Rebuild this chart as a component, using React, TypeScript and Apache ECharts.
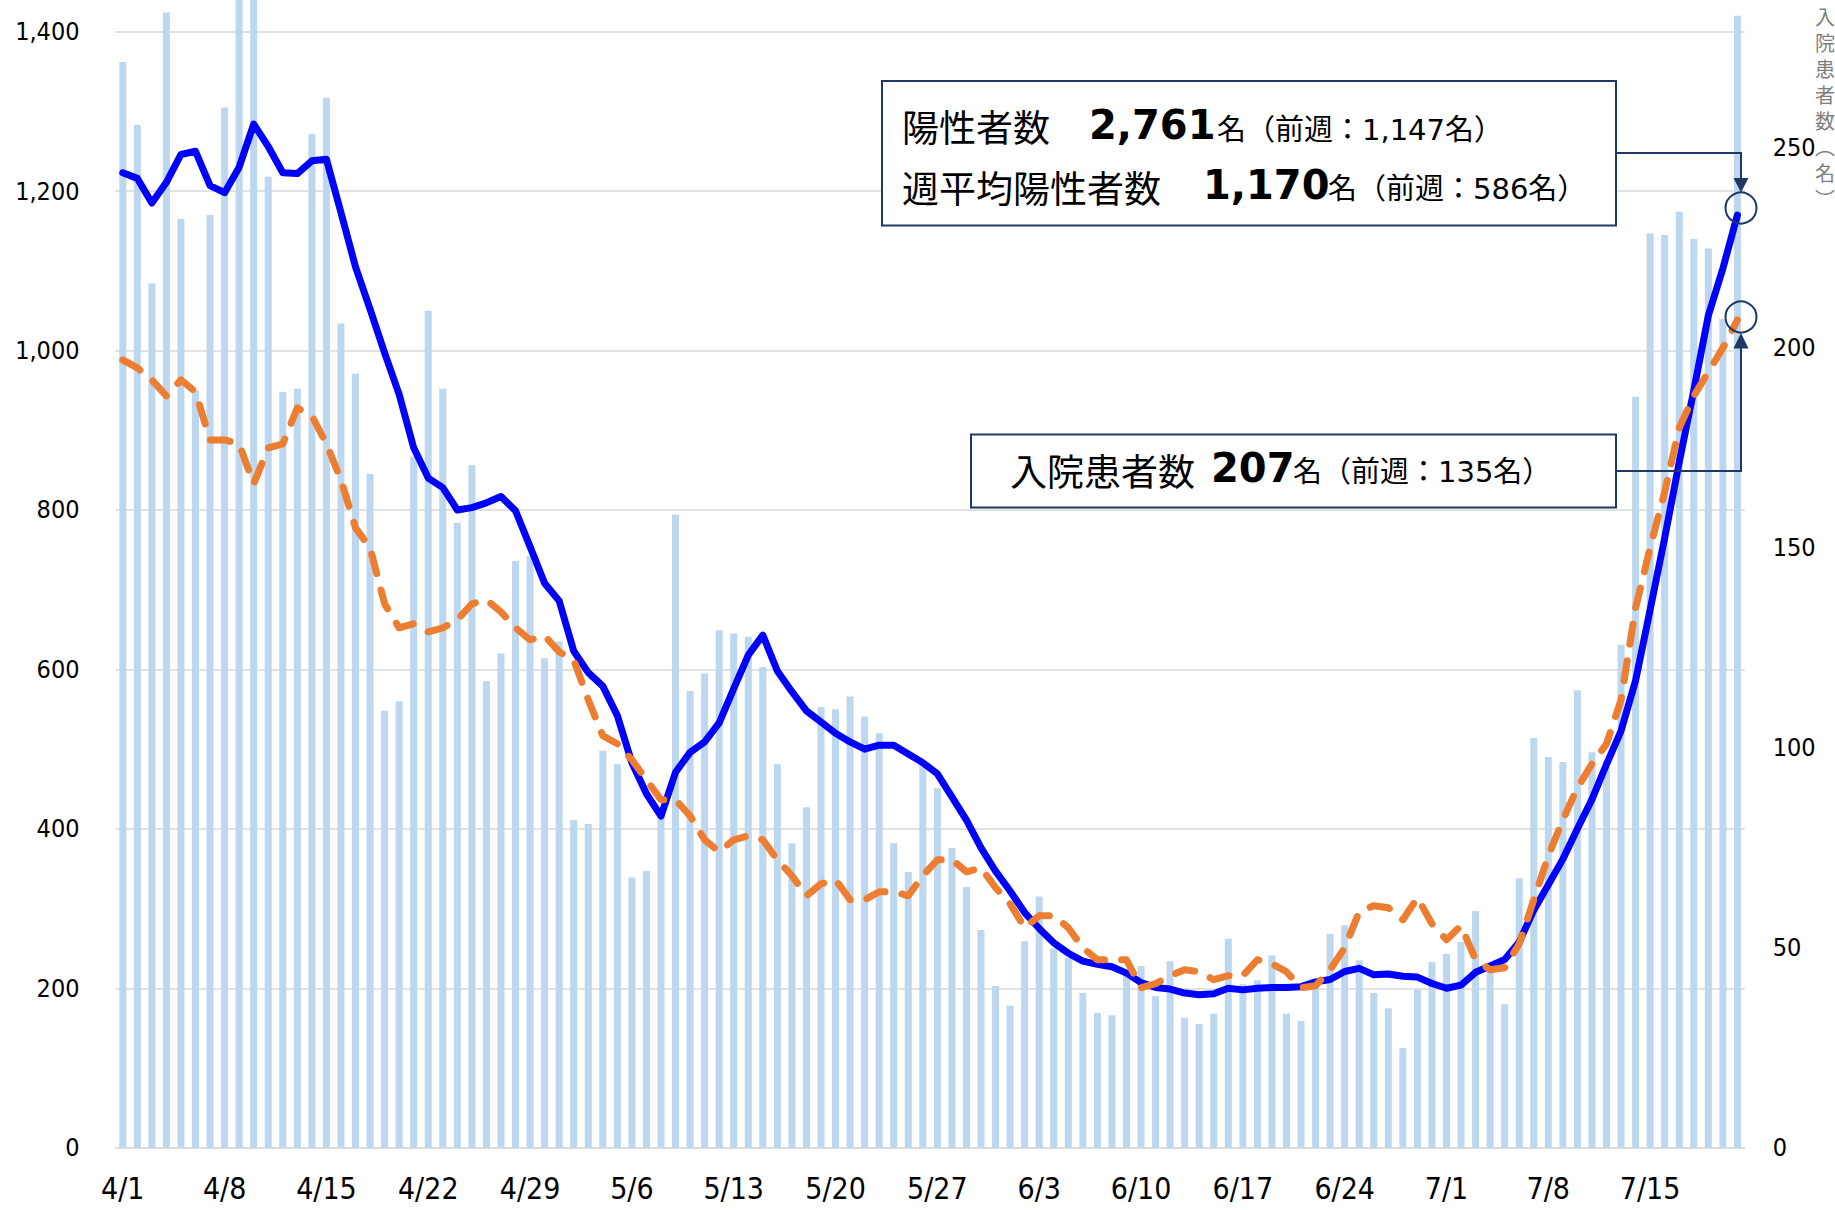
import React, { useEffect, useRef } from "react";
import * as echarts from "echarts";

const monthDays = (m: number, n: number) => Array.from({ length: n }, (_, i) => `${m}/${i + 1}`);
const categories = [...monthDays(4, 30), ...monthDays(5, 31), ...monthDays(6, 30), ...monthDays(7, 21)];

// 陽性者数 (daily positives, left axis)
const dailyPositives = [
  1362, 1283, 1084, 1424, 1165, 950, 1170, 1305, 1505, 1450,
  1218, 948, 952, 1272, 1317, 1034, 971, 845, 548, 560,
  867, 1050, 952, 784, 856, 585, 620, 736, 742, 614,
  635, 411, 406, 498, 481, 339, 347, 425, 794, 573,
  595, 649, 645, 641, 603, 481, 382, 427, 553, 550,
  566, 541, 520, 382, 346, 480, 451, 376, 327, 273,
  203, 178, 259, 315, 250, 238, 194, 169, 166, 218,
  228, 190, 234, 163, 155, 168, 262, 205, 210, 241,
  168, 159, 210, 268, 279, 235, 194, 175, 125, 198,
  233, 243, 258, 297, 230, 180, 338, 514, 490, 484,
  574, 496, 485, 631, 942, 1147, 1145, 1174, 1140, 1128,
  1040, 1420,
];

// 週平均陽性者数 (weekly average, left axis)
const weeklyAverage = [
  1223, 1216, 1185, 1211, 1246, 1250, 1207, 1198, 1230, 1284,
  1256, 1223, 1222, 1238, 1240, 1173, 1105, 1052, 997, 945,
  878, 840, 828, 800, 803, 809, 817, 799, 754, 708,
  686, 623, 596, 579, 542, 483, 444, 416, 471, 496,
  509, 533, 576, 618, 643, 598, 572, 548, 534, 520,
  509, 500, 505, 505, 494, 483, 469, 440, 411, 376,
  347, 322, 295, 275, 257, 244, 234, 230, 227, 219,
  207, 201, 199, 194, 192, 193, 200, 198, 200, 201,
  201, 202, 208, 211, 221, 225, 217, 218, 215, 214,
  206, 200, 204, 220, 228, 236, 258, 298, 330, 362,
  400, 437, 481, 523, 586, 675, 765, 860, 950, 1044,
  1103, 1170,
];

// 入院患者数 (hospitalized, right axis)
const hospitalized = [
  197, 195, 192, 188, 192, 189, 177, 177, 176, 166,
  175, 176, 185, 183, 176, 167, 155, 150, 136, 130,
  131, 129, 130, 132, 136, 137, 134, 130, 127, 128,
  124, 122, 112, 103, 101, 97, 92, 87, 87, 83,
  77, 74, 77, 78, 77, 72, 68, 63, 66, 67,
  62, 62, 64, 64, 63, 68, 72, 72, 69, 70,
  65, 61, 55, 58, 58, 55, 50, 47, 47, 47,
  40, 41, 43, 44.5, 44, 42, 43, 43, 47, 46,
  44, 40, 40.5, 44.5, 50, 59, 60.5, 60, 57, 62.5,
  56, 52, 55.5, 47, 44.5, 45, 51, 62, 73, 82,
  90, 96, 101, 112, 135, 150, 164, 180, 188, 194,
  200, 207,
];

const leftTickStep = 200;
const leftTickTop = 1400;
const rightTickStep = 50;
const rightTickTop = 250;

const axisFont = "'DejaVu Sans Condensed', 'Noto Sans', sans-serif";
const cjk = "'Noto Sans CJK JP', sans-serif";
const latinCjk = "'DejaVu Sans', 'Noto Sans CJK JP', sans-serif";
const navy = "#1F3864";

// the chart div starts OY px above the page top (plot area extends above the visible picture)
const OY = 52;

function txt(text: string, x: number, y: number, size: number, family: string, weight = "normal", extra: any = {}) {
  return {
    type: "text",
    z: 20,
    style: {
      text,
      x,
      y: y + OY,
      fontSize: size,
      fontFamily: family,
      fontWeight: weight,
      fill: "#000",
      align: "left",
      textAlign: "left",
      verticalAlign: "middle",
      textVerticalAlign: "middle",
      ...extra,
    },
  };
}

const pts = (arr: number[][]) => arr.map(([x, y]) => [x, y + OY]);

export default function App() {
  const ref = useRef<HTMLDivElement>(null);
  useEffect(() => {
    if (!ref.current) return;
    const chart = echarts.init(ref.current, undefined, { renderer: "svg" });
    const option: any = {
      animation: false,
      backgroundColor: "#ffffff",
      grid: { left: 115.5, right: 90.3, top: 0, bottom: 62.3 },
      xAxis: {
        type: "category",
        data: categories,
        boundaryGap: true,
        axisLine: { lineStyle: { color: "#d9d9d9", width: 1.5 } },
        axisTick: { interval: 6, length: 12, lineStyle: { color: "#d9d9d9", width: 1.5 } },
        axisLabel: { interval: 6, fontSize: 30, color: "#000", margin: 26, fontFamily: axisFont },
        splitLine: { show: false },
      },
      yAxis: [
        {
          type: "value",
          min: 0,
          max: 1505,
          interval: leftTickStep,
          position: "left",
          axisLine: { show: false },
          axisTick: { show: false },
          axisLabel: {
            fontSize: 25,
            color: "#000",
            margin: 36,
            fontFamily: axisFont,
            formatter: (v: number) => (v % leftTickStep === 0 && v <= leftTickTop ? v.toLocaleString("en-US") : ""),
          },
          splitLine: { lineStyle: { color: "#d9d9d9", width: 1.5 } },
        },
        {
          type: "value",
          min: 0,
          max: 300,
          interval: rightTickStep,
          position: "right",
          axisLine: { show: false },
          axisTick: { show: false },
          splitLine: { show: false },
          axisLabel: {
            fontSize: 25,
            color: "#000",
            margin: 28,
            fontFamily: axisFont,
            formatter: (v: number) => (v <= rightTickTop ? String(v) : ""),
          },
        },
      ],
      series: [
        {
          name: "陽性者数",
          type: "bar",
          data: dailyPositives,
          yAxisIndex: 0,
          barWidth: 7,
          itemStyle: { color: "#BDD7EE" },
          z: 1,
        },
        {
          name: "週平均陽性者数",
          type: "line",
          data: weeklyAverage,
          yAxisIndex: 0,
          symbol: "none",
          lineStyle: { color: "#0000FF", width: 7, join: "round", cap: "round" },
          z: 3,
        },
        {
          name: "入院患者数",
          type: "line",
          data: hospitalized,
          yAxisIndex: 1,
          symbol: "none",
          lineStyle: { color: "#ED7D31", width: 7, type: [20, 17], cap: "round", join: "round" },
          z: 4,
        },
      ],
      graphic: {
        elements: [
          {
            type: "rect",
            z: 10,
            shape: { x: 882, y: 81 + OY, width: 734, height: 144.5 },
            style: { fill: "#fff", stroke: navy, lineWidth: 2 },
          },
          {
            type: "rect",
            z: 10,
            shape: { x: 971, y: 434.5 + OY, width: 645, height: 73 },
            style: { fill: "#fff", stroke: navy, lineWidth: 2 },
          },
          {
            type: "polyline",
            z: 10,
            shape: { points: pts([[1616, 153], [1741, 153], [1741, 180]]) },
            style: { stroke: navy, lineWidth: 2, fill: "none" },
          },
          {
            type: "polygon",
            z: 10,
            shape: { points: pts([[1733.5, 178], [1748.5, 178], [1741, 192.5]]) },
            style: { fill: navy },
          },
          {
            type: "circle",
            z: 10,
            shape: { cx: 1741, cy: 208 + OY, r: 15.5 },
            style: { fill: "none", stroke: navy, lineWidth: 2 },
          },
          {
            type: "polyline",
            z: 10,
            shape: { points: pts([[1616, 471], [1741, 471], [1741, 346]]) },
            style: { stroke: navy, lineWidth: 2, fill: "none" },
          },
          {
            type: "polygon",
            z: 10,
            shape: { points: pts([[1733.5, 348.5], [1748.5, 348.5], [1741, 333]]) },
            style: { fill: navy },
          },
          {
            type: "circle",
            z: 10,
            shape: { cx: 1741, cy: 317 + OY, r: 15.5 },
            style: { fill: "none", stroke: navy, lineWidth: 2 },
          },
          txt("陽性者数", 902, 125.5, 37, cjk),
          txt("2,761", 1089, 125, 40, "'DejaVu Sans', sans-serif", "bold"),
          txt("名（前週：1,147名）", 1217, 130, 29, latinCjk),
          txt("週平均陽性者数", 902, 186.5, 37, cjk),
          txt("1,170", 1203, 185, 40, "'DejaVu Sans', sans-serif", "bold"),
          txt("名（前週：586名）", 1328, 189, 29, latinCjk),
          txt("入院患者数", 1010, 469.5, 37, cjk),
          txt("207", 1211, 468, 40, "'DejaVu Sans', sans-serif", "bold"),
          txt("名（前週：135名）", 1293, 472, 29, latinCjk),
          txt("入\n院\n患\n者\n数\n︵\n名\n︶", 1825, 3, 20, cjk, "normal", {
            fill: "#7f7f7f",
            align: "center",
            textAlign: "center",
            verticalAlign: "top",
            textVerticalAlign: "top",
            lineHeight: 26,
          }),
        ],
      },
    };
    chart.setOption(option);
    return () => chart.dispose();
  }, []);
  return (
    <div
      ref={ref}
      style={{ position: "absolute", left: 0, top: -OY, width: 1835, height: 1210 + OY, background: "#fff" }}
    />
  );
}
